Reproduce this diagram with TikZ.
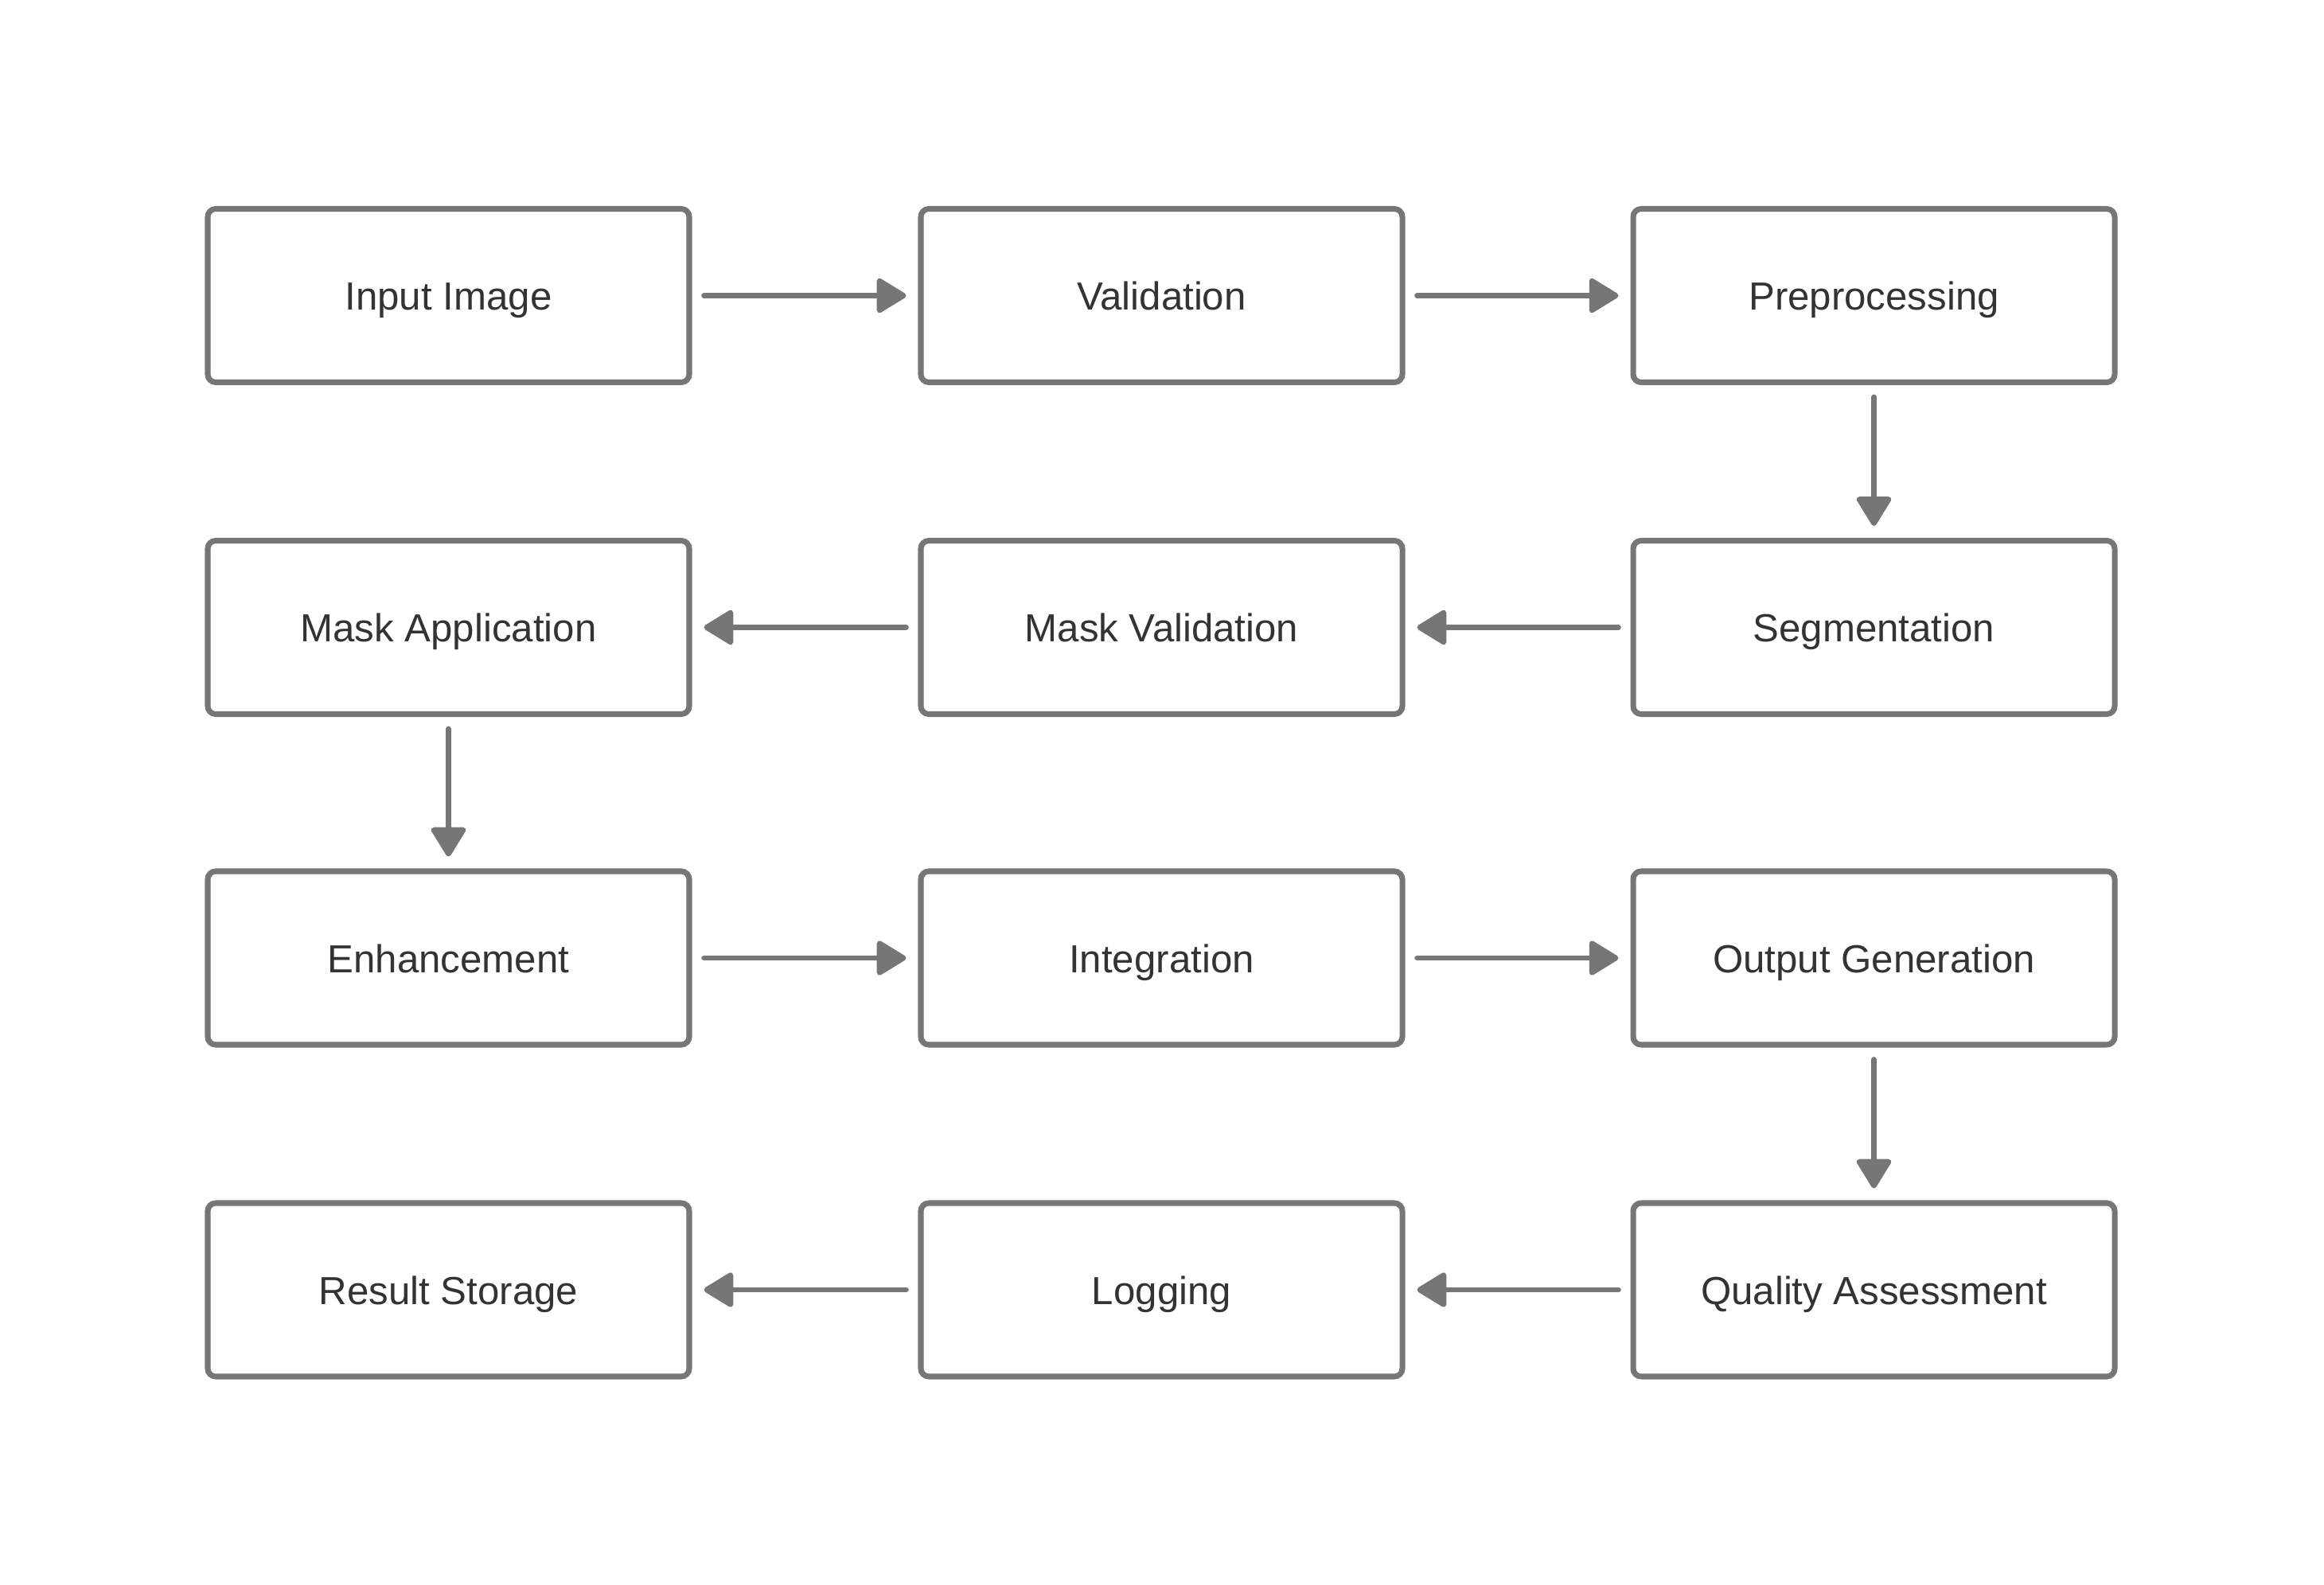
\documentclass[tikz,border=0pt]{standalone}
\usepackage{fontspec}
\setmainfont{Liberation Sans}
\usetikzlibrary{arrows.meta, positioning}
\definecolor{edgegray}{HTML}{767676}
\definecolor{textgray}{HTML}{333333}

\begin{document}
\begin{tikzpicture}[
  >={Triangle[length=4mm, width=4.7mm, round]},
  stage/.style={rectangle, rounded corners=1mm, draw=edgegray, line width=2pt,
    minimum width=6.05cm, minimum height=2.18cm, text=textgray,
    text height=2.3ex, text depth=.35ex,
    font=\fontsize{14}{17}\selectfont},
  flow/.style={->, draw=edgegray, fill=edgegray, line width=1.9pt, line cap=round,
    shorten <=1.5mm, shorten >=1.5mm}
]
  \fill[white] (0,0) rectangle (29.2,-19.92);
  \useasboundingbox (0,0) rectangle (29.2,-19.92);

  \node[stage] (inp) at ( 5.635, -3.715) {Input Image};
  \node[stage] (val) at (14.595, -3.715) {Validation};
  \node[stage] (pre) at (23.545, -3.715) {Preprocessing};
  \node[stage] (seg) at (23.545, -7.885) {Segmentation};
  \node[stage] (mval) at (14.595, -7.885) {Mask Validation};
  \node[stage] (mapp) at ( 5.635, -7.885) {Mask Application};
  \node[stage] (enh) at ( 5.635,-12.04) {Enhancement};
  \node[stage] (integ) at (14.595,-12.04) {Integration};
  \node[stage] (outg) at (23.545,-12.04) {Output Generation};
  \node[stage] (qual) at (23.545,-16.21) {Quality Assessment};
  \node[stage] (logg) at (14.595,-16.21) {Logging};
  \node[stage] (res) at ( 5.635,-16.21) {Result Storage};

  \draw[flow] (inp) -- (val);
  \draw[flow] (val) -- (pre);
  \draw[flow] (pre) -- (seg);
  \draw[flow] (seg) -- (mval);
  \draw[flow] (mval) -- (mapp);
  \draw[flow] (mapp) -- (enh);
  \draw[flow] (enh) -- (integ);
  \draw[flow] (integ) -- (outg);
  \draw[flow] (outg) -- (qual);
  \draw[flow] (qual) -- (logg);
  \draw[flow] (logg) -- (res);
\end{tikzpicture}
\end{document}
